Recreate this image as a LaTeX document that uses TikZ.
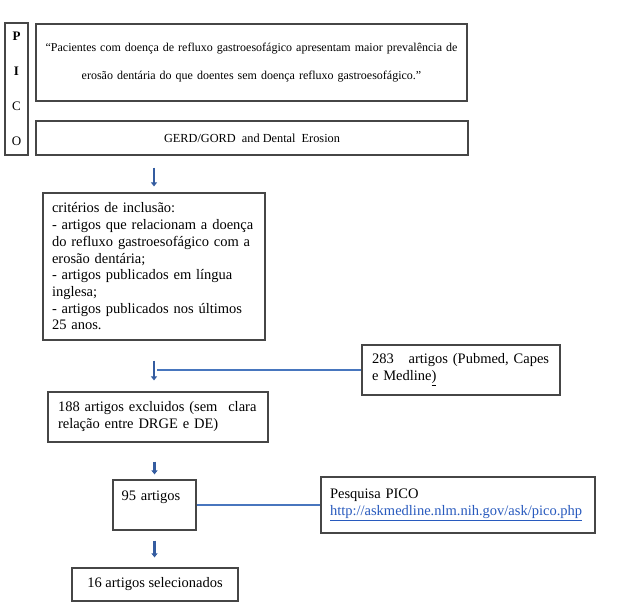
\documentclass[tikz,border=0pt]{standalone}
\usepackage{fontspec}
\setmainfont{Liberation Serif}
\usepackage{xcolor}
\usetikzlibrary{arrows.meta}
\definecolor{arrowblue}{RGB}{52,92,160}
\definecolor{lineblue}{RGB}{72,118,190}
\definecolor{linkblue}{RGB}{40,90,190}
\definecolor{boxgray}{RGB}{70,70,70}

\begin{document}
\begin{tikzpicture}[x=1pt,y=-1pt]
    \tikzstyle{box}=[draw=boxgray,line width=1.2pt,fill=white,inner sep=0pt,font=\fontsize{14.5}{17}\selectfont]
    \tikzstyle{flow}=[draw=arrowblue,line width=2.2pt,-{Triangle[length=4pt,width=6pt]}]
    \tikzstyle{link}=[draw=lineblue,line width=1.3pt]

    \useasboundingbox (0,0) rectangle (626,606);

    \node[box,minimum width=23pt,minimum height=132pt,align=center,font=\fontsize{13}{35}\selectfont] (pico) at (16.5,89) {\textbf{P}\\\textbf{I}\\C\\O};
    \node[box,minimum width=431pt,minimum height=77pt,text width=420pt,align=center,font=\fontsize{12}{28}\selectfont] (hyp) at (251.5,62.5)
        {“Pacientes com doença de refluxo gastroesofágico apresentam maior prevalência de\\erosão dentária do que doentes sem doença refluxo gastroesofágico.”};
    \node[box,minimum width=432pt,minimum height=34pt,font=\fontsize{12.3}{14}\selectfont] (topic) at (252,138) {GERD/GORD\ \ and Dental\ \ Erosion};

    \node[box,minimum width=222pt,minimum height=147pt,text width=204pt,align=left,font=\fontsize{14.5}{16.7}\selectfont] (crit) at (154,266.5)
        {critérios de inclusão:\\- artigos que relacionam a doença\\do refluxo gastroesofágico com a\\erosão dentária;\\- artigos publicados em língua\\inglesa;\\- artigos publicados nos últimos\\25 anos.};
    \node[box,minimum width=198pt,minimum height=50pt,text width=178pt,align=left] (found) at (461,370)
        {\makebox[178pt][s]{283\hspace{10pt} artigos (Pubmed, Capes}\\e Medline\underline{)}};
    \node[box,minimum width=220pt,minimum height=50pt,text width=200pt,align=left] (excl) at (158,417)
        {\makebox[200pt][s]{188 artigos excluidos (sem\hspace{6pt} clara}\\relação entre DRGE e DE)};
    \node[box,minimum width=83pt,minimum height=50pt,text width=66pt,align=left] (kept) at (154.5,505) {95 artigos\\[2pt]\mbox{}};
    \node[box,minimum width=274pt,minimum height=56pt,text width=256pt,align=left] (picosearch) at (458,505)
        {Pesquisa PICO\\\textcolor{linkblue}{\underline{http://askmedline.nlm.nih.gov/ask/pico.php}}};
    \node[box,minimum width=166pt,minimum height=33pt] (final) at (155,584.5) {16 artigos selecionados};

    \coordinate (join) at ([xshift=3pt]crit.south |- found.west);

    \path[flow,shorten <=12pt,shorten >=6pt] (crit.north |- topic.south) -- (crit.north);
    \path[flow,shorten <=20pt,shorten >=11pt] (crit.south) -- (crit.south |- excl.north);
    \path[link] (join) -- (found.west);
    \path[flow,shorten <=19pt,shorten >=5pt] (kept.north |- excl.south) -- (kept.north);
    \path[link] (kept.east) -- (picosearch.west);
    \path[flow,shorten <=10pt,shorten >=10pt] (kept.south) -- (kept.south |- final.north);

\end{tikzpicture}
\end{document}
